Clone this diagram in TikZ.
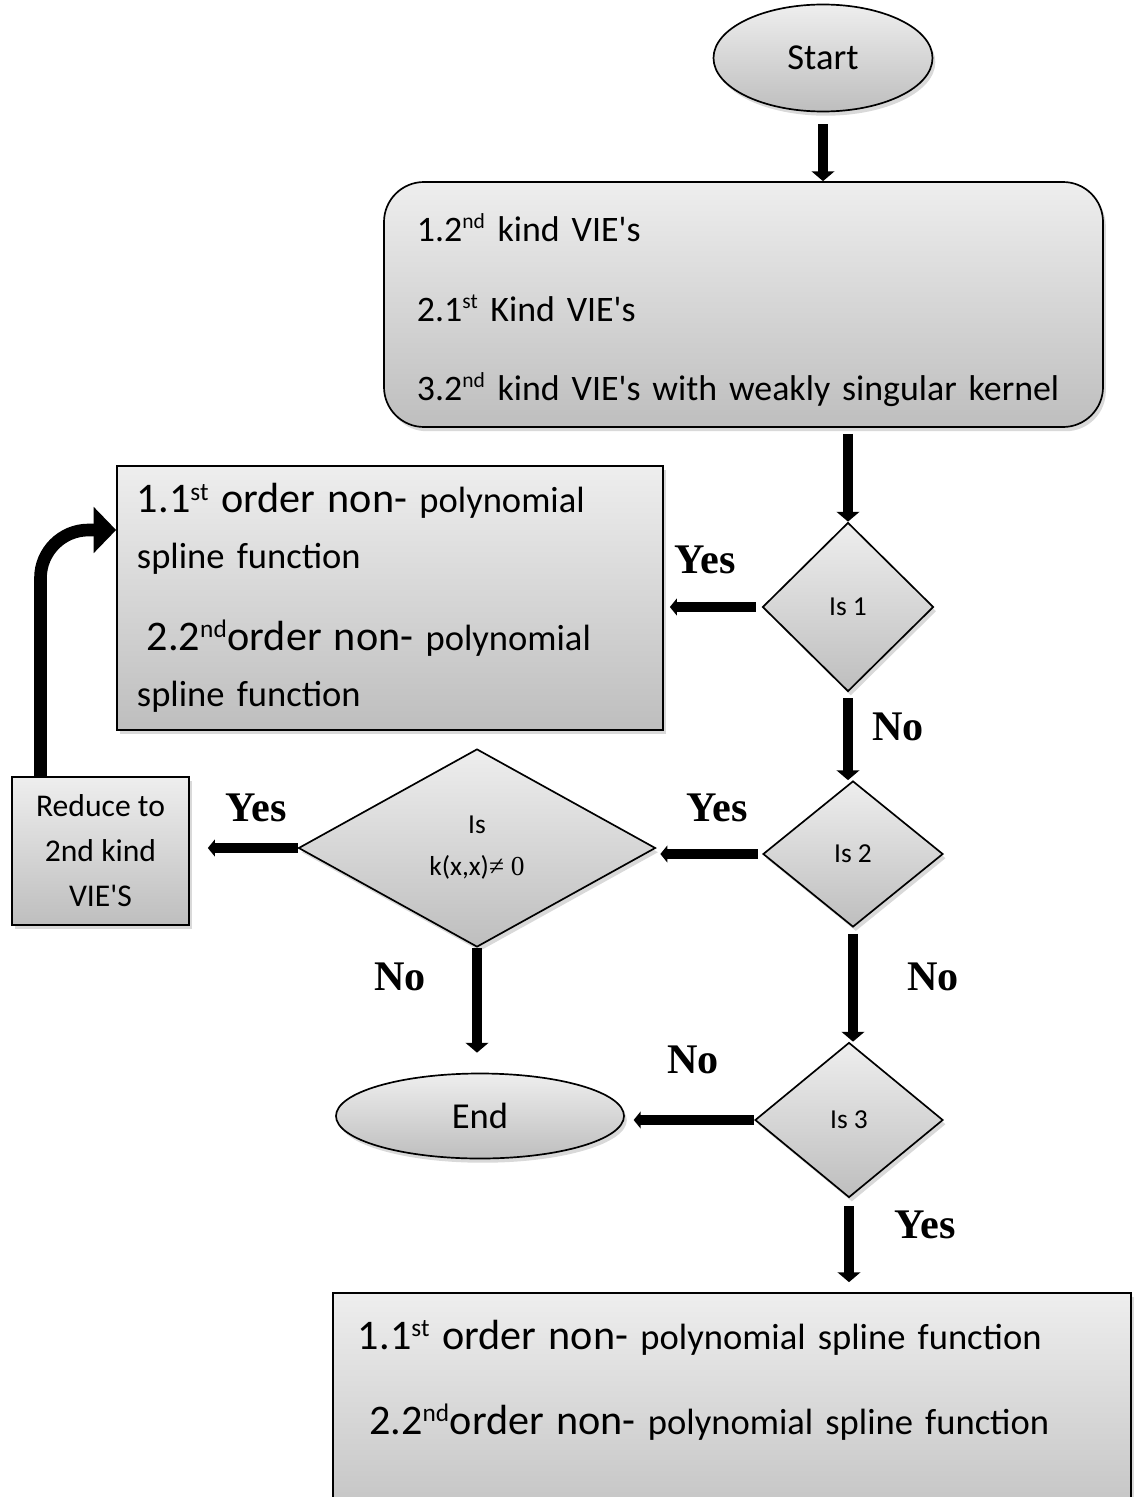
\documentclass[tikz,border=0pt]{standalone}
\usepackage{fontspec}
\newfontfamily\flowfont{Carlito}
\newfontfamily\answerfont{Liberation Serif}
\usepackage{tikz}
\renewcommand{\defaultscriptratio}{0.6}
\definecolor{shadetop}{RGB}{238,238,238}
\definecolor{shadebottom}{RGB}{190,190,190}
\usetikzlibrary{
	arrows.meta,
	shapes.geometric,
	shadows
}
\tikzset{
	shaded/.style={draw, line width=1.2pt, top color=shadetop, bottom color=shadebottom,
		drop shadow={shadow xshift=2pt, shadow yshift=-3pt, opacity=0.3}},
	terminal/.style={shaded, ellipse, font=\flowfont\fontsize{26}{30}\selectfont},
	listbox/.style={shaded, rectangle, align=left},
	decision/.style={shaded, diamond, inner sep=0pt, align=center, font=\flowfont\fontsize{19.5}{30}\selectfont},
	flowarrow/.style={-{Triangle[width=16pt,length=7pt]}, line width=7pt},
	sidearrow/.style={-{Triangle[width=12pt,length=5pt]}, line width=6.5pt},
	bendarrow/.style={-{Triangle[width=32pt,length=16pt]}, line width=9pt, rounded corners=12mm},
	answer/.style={font=\answerfont\bfseries\fontsize{30}{30}\selectfont}
}
\newcommand{\bigpart}[1]{{\fontsize{30}{40}\selectfont #1}}

\begin{document}
\begin{tikzpicture}[x=0.25mm, y=-0.25mm]
	\useasboundingbox (0,0) rectangle (1133,1497);

	% shapes
	\node[terminal, minimum width=54.75mm, minimum height=26.75mm] (start) at (823,58) {Start};
	\node[listbox, rounded corners=10mm, minimum width=179.75mm, minimum height=61.25mm, text width=163.25mm,
		font=\flowfont\fontsize{25.5}{56.5}\selectfont] (kinds) at (743.5,304.5)
		{\rule{0pt}{28pt}1.2\textsuperscript{nd} kind VIE's\\2.1\textsuperscript{st} Kind VIE's\\
		\mbox{3.2\textsuperscript{nd} kind VIE's with weakly singular kernel}};
	\node[decision, minimum width=42.75mm, minimum height=42.25mm] (is1) at (848,607) {Is 1};
	\node[listbox, minimum width=136.5mm, minimum height=66mm, text width=126.5mm,
		font=\flowfont\fontsize{26}{40}\selectfont] (order1) at (390,598)
		{\bigpart{1.1\textsuperscript{st} order non-} polynomial\\spline function\\[18pt]
		\hspace*{7pt}\bigpart{2.2\textsuperscript{nd}order non-} polynomial\\spline function};
	\node[decision, minimum width=45mm, minimum height=36.5mm] (is2) at (853,854) {Is 2};
	\node[decision, minimum width=89.25mm, minimum height=49.5mm] (kernel) at (477,848)
		{Is\\k(x,x){\answerfont ≠ 0}};
	\node[listbox, align=center, minimum width=44.25mm, minimum height=37mm,
		font=\flowfont\fontsize{22.5}{32}\selectfont] (reduce) at (100.5,851) {Reduce to\\2nd kind\\VIE'S};
	\node[decision, minimum width=47mm, minimum height=38.75mm] (is3) at (849,1120) {Is 3};
	\node[terminal, minimum width=72mm, minimum height=21.25mm] (finish) at (480,1116) {End};
	\node[listbox, minimum width=199.5mm, minimum height=63.5mm, text width=187mm,
		font=\flowfont\fontsize{26}{60.5}\selectfont] (order2) at (732,1420)
		{\bigpart{1.1\textsuperscript{st} order non-} polynomial spline function\\
		\hspace*{8pt}\bigpart{2.2\textsuperscript{nd}order non-} polynomial spline function\\ \mbox{}};

	% connectors
	\draw[flowarrow, shorten <=3mm] (start.south) -- (start.south |- kinds.north);
	\draw[flowarrow, shorten <=1.5mm] (is1.north |- kinds.south) -- (is1.north);
	\draw[sidearrow, shorten <=1.5mm, shorten >=1.5mm] (is1.west) -- (is1.west -| order1.east);
	\draw[flowarrow, shorten <=1.5mm] (is1.south) -- (is1.south |- is2.north);
	\draw[sidearrow, shorten <=1mm, shorten >=1mm] (is2.west) -- (is2.west -| kernel.east);
	\draw[sidearrow, shorten >=4.5mm] (kernel.west) -- (kernel.west -| reduce.east);
	\draw[bendarrow] ([xshift=-15mm]reduce.north) |- ([yshift=17mm]order1.west);
	\draw[flowarrow, shorten >=5mm] (kernel.south) -- (kernel.south |- finish.north);
	\draw[flowarrow, shorten <=1.5mm] (is2.south) -- (is2.south |- is3.north);
	\draw[sidearrow, shorten >=2.2mm] (is3.west) -- (is3.west -| finish.east);
	\draw[flowarrow, shorten <=2mm, shorten >=2.5mm] (is3.south) -- (is3.south |- order2.north);

	% answers
	\node[answer] (yes1) at (705,560) {Yes};
	\node[answer] (no1) at (898,727) {No};
	\node[answer] (yes2) at (717,808) {Yes};
	\node[answer] (yes3) at (256,808) {Yes};
	\node[answer] (no2) at (400,977) {No};
	\node[answer] (no3) at (933,977) {No};
	\node[answer] (no4) at (693,1060) {No};
	\node[answer] (yes4) at (925,1225) {Yes};
\end{tikzpicture}
\end{document}
